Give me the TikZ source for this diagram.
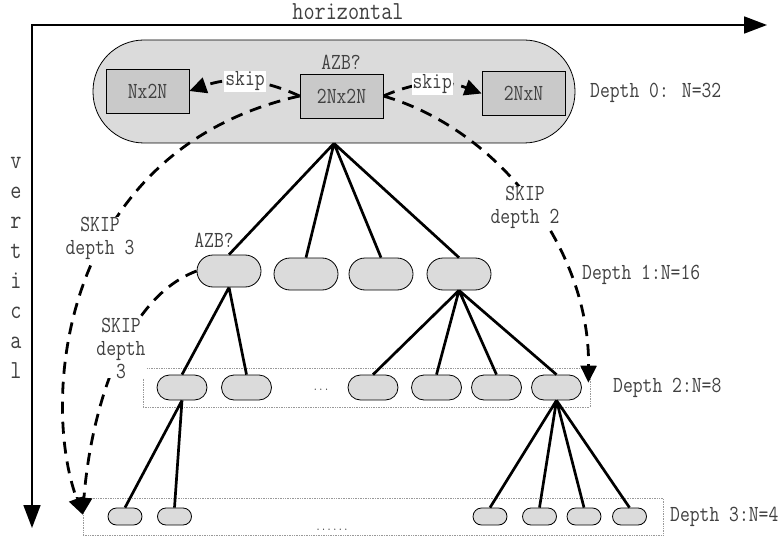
\documentclass[tikz,border=0pt]{standalone}
\usepackage{fontspec}
\setmainfont{Latin Modern Mono}[FakeStretch=0.83]
\usepackage{tikz}
\colorlet{colorTXT}{black!75}
\colorlet{colorCU}{gray!28}
\colorlet{colorPU}{gray!42}
\colorlet{colorROW}{gray!80}
\usetikzlibrary{arrows.meta}
\usetikzlibrary{positioning}
\newcommand{\lbl}{\fontsize{23}{23}\selectfont}
\newcommand{\axlbl}{\fontsize{26}{30}\selectfont}
\newcommand{\dotlbl}{\fontsize{13}{13}\selectfont\bfseries}
\tikzset{
   every node/.style={text=colorTXT,font=\lbl},
   axis/.style={line width=1.8pt,line cap=rect,-{Triangle[length=23pt,width=17pt]}},
   tree/.style={line width=2.7pt},
   skipline/.style={line width=2.8pt,dash pattern=on 12pt off 8pt,-{Triangle[length=17pt,width=16pt]}},
   skiplabel/.style={fill=white,inner sep=1pt},
   skiptext/.style={fill=white,inner sep=0pt,align=center},
   cu/.style={draw,fill=colorCU,line width=0.8pt,inner sep=0pt,rounded corners=51pt,minimum width=482pt,minimum height=103pt},
   pu/.style={draw,fill=colorPU,line width=0.8pt,minimum width=83pt,minimum height=44pt},
   cu1/.style={draw,fill=colorCU,line width=0.8pt,inner sep=0pt,rounded corners=16pt,minimum width=64pt,minimum height=32pt},
   cu2/.style={draw,fill=colorCU,line width=0.8pt,inner sep=0pt,rounded corners=12.5pt,minimum width=50pt,minimum height=25pt},
   cu3/.style={draw,fill=colorCU,line width=0.8pt,inner sep=0pt,rounded corners=8.5pt,minimum width=34pt,minimum height=17pt},
   row/.style={draw=colorROW,densely dotted,line width=0.7pt,inner sep=0pt},
   depth/.style={anchor=west,inner sep=0pt},
}

\begin{document}
\begin{tikzpicture}[x=1pt,y=-1pt]

        \useasboundingbox (0,0) rectangle (781,540);

        % axes
        \coordinate (org)  at ( 32,  25);
        \coordinate (hend) at (767,  25);
        \coordinate (vend) at ( 32, 528);
        \draw[axis] (org) -- (hend);
        \draw[axis] (org) -- (vend);
        \node[font=\axlbl,anchor=base,inner sep=0pt] (hlab) at (348, 20) {horizontal};
        \node[font=\axlbl,align=center] (vlab) at (16, 268) {v\\e\\r\\t\\i\\c\\a\\l};

        % depth 0: the 32x32 unit and its partitions
        \node[cu] (cu0) at (334, 91.5) {};
        \node[pu] (pnx) at (147.5, 91) {Nx2N};
        \node[pu] (psq) at (341.5, 96) {2Nx2N};
        \node[pu] (pxn) at (523.5, 93.5) {2NxN};
        \node (azb0) at (341, 62) {AZB?};
        \node[depth] (lab0) at (590, 93) {Depth 0: N=32};

        % rows of depth 2 and 3
        \node[row,minimum width=447pt,minimum height=39pt] (row2) at (366.5, 387.5) {};
        \node[row,minimum width=580pt,minimum height=37pt] (row3) at (373, 516.5) {};

        % depth 1
        \node[cu1] (c11) at (229, 271) {};
        \node[cu1] (c12) at (306, 274) {};
        \node[cu1] (c13) at (381, 274) {};
        \node[cu1] (c14) at (459, 274) {};
        \node (azb1) at (214, 240) {AZB?};
        \node[depth] (lab1) at (582, 275) {Depth 1:N=16};

        % depth 2
        \node[cu2] (c21) at (182,   387.5) {};
        \node[cu2] (c22) at (246.5, 387.5) {};
        \node[font=\dotlbl,anchor=base] (dots2) at (321, 390) {...};
        \node[cu2] (c23) at (373,   387.5) {};
        \node[cu2] (c24) at (436.5, 387.5) {};
        \node[cu2] (c25) at (496.5, 387.5) {};
        \node[cu2] (c26) at (556.5, 387.5) {};
        \node[depth] (lab2) at (613, 388) {Depth 2:N=8};

        % depth 3
        \node[cu3] (c31) at (125,   516.5) {};
        \node[cu3] (c32) at (174.5, 516.5) {};
        \node[font=\dotlbl,anchor=base] (dots3) at (332, 530) {......};
        \node[cu3] (c33) at (490,   516.5) {};
        \node[cu3] (c34) at (539.5, 516.5) {};
        \node[cu3] (c35) at (584,   516.5) {};
        \node[cu3] (c36) at (629.5, 516.5) {};
        \node[depth] (lab3) at (670, 517) {Depth 3:N=4};

        % quadtree split
        \draw[tree] (cu0.south) -- (c11.north)
                    (cu0.south) -- (c12.north)
                    (cu0.south) -- (c13.north)
                    (cu0.south) -- (c14.north);
        \draw[tree] (c11.south) -- (c21.north)
                    (c11.south) -- (c22.north);
        \draw[tree] (c14.south) -- (c23.north)
                    (c14.south) -- (c24.north)
                    (c14.south) -- (c25.north)
                    (c14.south) -- (c26.north);
        \draw[tree] (c21.south) -- (c31.north)
                    (c21.south) -- (c32.north);
        \draw[tree] (c26.south) -- (c33.north)
                    (c26.south) -- (c34.north)
                    (c26.south) -- (c35.north)
                    (c26.south) -- (c36.north);

        % early skips
        \coordinate (in2) at ([xshift=-2pt,yshift=-15pt]row2.north east);
        \coordinate (in3) at ([yshift=-17pt]row3.north west);

        \draw[skipline] (psq.west) to[bend right=22] node[skiplabel] {skip} (pnx.east);
        \draw[skipline] (psq.east) to[bend left=22]  node[skiplabel] {skip} (pxn.west);

        \draw[skipline] (psq.west) .. controls (60, 150) and (40, 400) .. (in3);
        \draw[skipline] (c11.west) .. controls (120, 300) and (90, 420) .. (in3);
        \draw[skipline] (psq.east) .. controls (500, 130) and (590, 250) .. (in2);

        \node[skiptext] (sk3a) at (100, 238) {SKIP\\depth 3};
        \node[skiptext] (sk3b) at (121, 348) {SKIP\\depth\\3};
        \node[skiptext] (sk2)  at (525, 207) {SKIP\\depth 2};

\end{tikzpicture}
\end{document}
